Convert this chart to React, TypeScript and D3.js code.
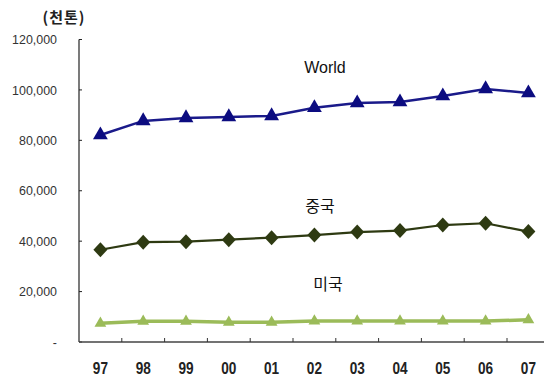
import React from "react";
import * as d3 from "d3";

const categories = ["97", "98", "99", "00", "01", "02", "03", "04", "05", "06", "07"];
const worldValues = [82100, 87700, 88900, 89300, 89700, 92900, 94800, 95200, 97600, 100400, 98800];
const chinaValues = [36600, 39600, 39800, 40600, 41400, 42400, 43600, 44200, 46400, 47100, 43800];
const usValues = [7400, 8200, 8200, 7800, 7800, 8300, 8300, 8300, 8300, 8300, 8800];
const yTicks = [0, 20000, 40000, 60000, 80000, 100000, 120000];
const unitLabel = "(천톤)";
const seriesLabels = ["World", "중국", "미국"];

const W = 544;
const H = 380;

export default function App() {
  const x = d3.scaleBand<string>().domain(categories).range([79, 79 + 11 * 42.8]).paddingInner(0).paddingOuter(0);
  const y = d3.scaleLinear().domain([0, 120000]).range([342, 39.5]);
  const cx = (c: string) => (x(c) as number) + x.bandwidth() / 2;
  const line = d3.line<number>().x((_, i) => cx(categories[i])).y((v) => y(v));
  const fmt = (v: number) => (v === 0 ? "-" : d3.format(",")(v));

  const tri = (size: number) => d3.symbol(d3.symbolTriangle, size)() as string;
  const diamond = (w: number, h: number) => `M0,${-h / 2}L${w / 2},0L0,${h / 2}L${-w / 2},0Z`;

  const tickFont = "Liberation Sans, Arial, sans-serif";

  return (
    <svg width={W} height={H} style={{ position: "absolute", left: 0, top: 0, background: "#fff" }}>
      <rect width={W} height={H} fill="#fff" />
      {/* unit label */}
      <text x={64} y={23} textAnchor="middle" fontFamily="Noto Sans CJK KR, sans-serif" fontWeight="bold" fontSize={15} letterSpacing={1} fill="#222">
        {unitLabel}
      </text>
      {/* y axis */}
      <line x1={79} x2={79} y1={y(120000)} y2={y(0)} stroke="#222" strokeWidth={1.2} />
      {yTicks.map((t) => (
        <g key={t} transform={`translate(57,${y(t)})`}>
          <line x1={22} x2={25} y1={0} y2={0} stroke="#222" strokeWidth={1} />
          <text transform="scale(0.92,1)" dy="0.35em" textAnchor="end" fontFamily={tickFont} fontSize={13.5} fill="#333">
            {fmt(t)}
          </text>
        </g>
      ))}
      {/* x axis */}
      <line x1={79} x2={W} y1={y(0)} y2={y(0)} stroke="#444" strokeWidth={1.5} />
      {categories.slice(1).map((c) => (
        <line key={c} x1={x(c) as number} x2={x(c) as number} y1={y(0)} y2={y(0) - 4} stroke="#333" strokeWidth={1} />
      ))}
      {categories.map((c) => (
        <g key={c} transform={`translate(${cx(c)},374)`}>
          <text transform="scale(0.85,1)" textAnchor="middle" fontFamily={tickFont} fontWeight="bold" fontSize={16} fill="#222">
            {c}
          </text>
        </g>
      ))}
      {/* US */}
      <path d={line(usValues) as string} fill="none" stroke="#9bbb59" strokeWidth={3.5} />
      {usValues.map((v, i) => (
        <path key={i} d={tri(60)} transform={`translate(${cx(categories[i])},${y(v)})`} fill="#9bbb59" />
      ))}
      {/* China */}
      <path d={line(chinaValues) as string} fill="none" stroke="#2e3a12" strokeWidth={2.2} />
      {chinaValues.map((v, i) => (
        <path key={i} d={diamond(14, 15)} transform={`translate(${cx(categories[i])},${y(v)})`} fill="#2e3a12" />
      ))}
      {/* World */}
      <path d={line(worldValues) as string} fill="none" stroke="#1a1a8a" strokeWidth={2.5} />
      {worldValues.map((v, i) => (
        <path key={i} d={tri(95)} transform={`translate(${cx(categories[i])},${y(v)})`} fill="#0c0c80" />
      ))}
      {/* series labels */}
      <text x={325} y={73} textAnchor="middle" fontFamily="Liberation Sans, Arial, sans-serif" fontSize={16} fill="#111">
        {seriesLabels[0]}
      </text>
      <text x={320} y={212} textAnchor="middle" fontFamily="Noto Sans CJK KR, sans-serif" fontSize={16} fill="#111">
        {seriesLabels[1]}
      </text>
      <text x={328} y={290} textAnchor="middle" fontFamily="Noto Sans CJK KR, sans-serif" fontSize={16} fill="#111">
        {seriesLabels[2]}
      </text>
    </svg>
  );
}
